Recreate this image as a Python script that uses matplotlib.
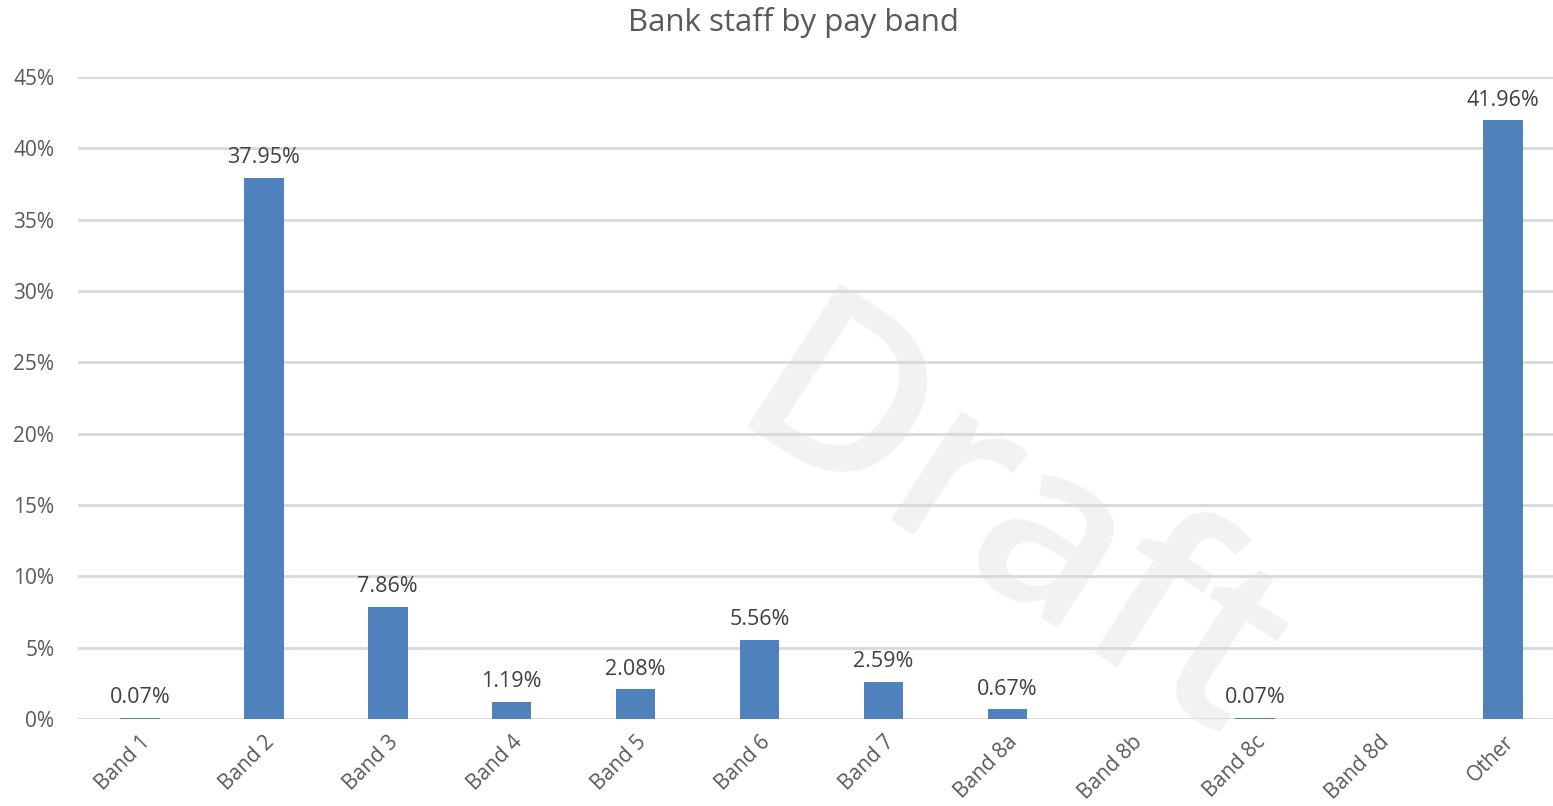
import numpy as np
import matplotlib.pyplot as plt
from matplotlib.ticker import PercentFormatter

# Share of bank staff in each pay band (%), missing bands have no staff recorded
bands = ['Band 1', 'Band 2', 'Band 3', 'Band 4', 'Band 5', 'Band 6',
         'Band 7', 'Band 8a', 'Band 8b', 'Band 8c', 'Band 8d', 'Other']
shares = [0.07, 37.95, 7.86, 1.19, 2.08, 5.56, 2.59, 0.67, np.nan, 0.07, np.nan, 41.96]
y_ticks = [0, 5, 10, 15, 20, 25, 30, 35, 40, 45]

plt.rcParams['font.family'] = ['Open Sans', 'DejaVu Sans']

fig = plt.figure(figsize=(15.53, 8.06), dpi=100)
ax = fig.add_axes([0.0502, 0.1079, 0.9575, 0.7966])
ax.patch.set_alpha(0)

x = np.arange(len(bands))
vals = np.array(shares, dtype=float)
ax.bar(x, np.nan_to_num(vals), width=0.32, color='#4f81bd', zorder=2)

for xi, v in zip(x, vals):
    if np.isnan(v):
        continue
    ax.annotate(f'{v:.2f}%', (xi, v), xytext=(0, 7), textcoords='offset points',
                ha='center', va='bottom', fontsize=15.5, color='#404040')

ax.set_xlim(-0.5, len(bands) - 0.5)
ax.set_ylim(0, 45)
ax.set_yticks(y_ticks)
ax.yaxis.set_major_formatter(PercentFormatter(decimals=0))
ax.set_xticks(x)
ax.set_xticklabels(bands, rotation=45, ha='right', rotation_mode='anchor')
ax.tick_params(axis='both', length=0, labelsize=15, labelcolor='#595959')
ax.tick_params(axis='y', pad=17)
ax.tick_params(axis='x', pad=9)

ax.grid(axis='y', color='#d9d9d9', linewidth=2)
ax.set_axisbelow(True)
for s in ax.spines.values():
    s.set_visible(False)

# faint watermark behind the gridlines
ax.text(0.648, 0.335, 'Draft', transform=fig.transFigure, fontsize=172,
        fontweight='semibold', color='#f2f2f2', rotation=-33,
        ha='center', va='center', zorder=0.1, clip_on=False)

fig.text(0.511, 0.972, 'Bank staff by pay band', ha='center', va='center',
         fontsize=22.5, color='#595959')

fig.savefig('out.png', dpi=100)
